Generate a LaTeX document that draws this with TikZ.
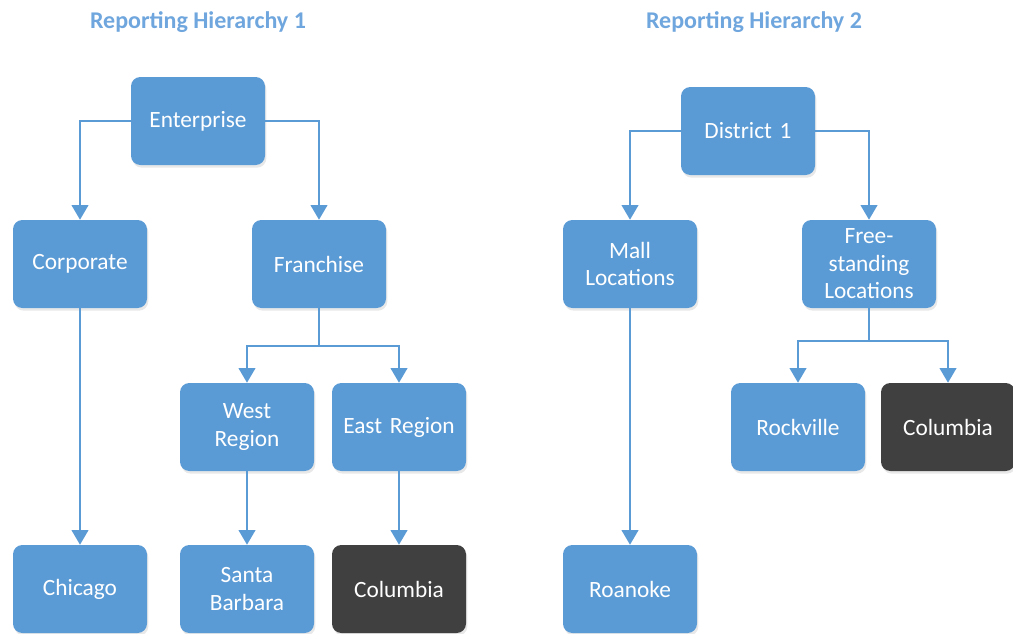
\documentclass[tikz,border=0pt]{standalone}
\usepackage{fontspec}
\setmainfont{Carlito}
\usetikzlibrary{arrows.meta,shadows,positioning}
\definecolor{boxblue}{HTML}{5B9BD5}
\definecolor{boxdark}{HTML}{404040}
\definecolor{titleblue}{HTML}{6FA6DD}
\tikzset{
  box/.style={rectangle, rounded corners=7pt, fill=boxblue, text=white,
    minimum width=100.5pt, minimum height=66pt, text width=92pt, align=center,
    font=\fontsize{17.5}{20.6}\selectfont,
    drop shadow={opacity=0.18, shadow xshift=1pt, shadow yshift=-2pt}},
  darkbox/.style={box, fill=boxdark},
  title/.style={font=\bfseries\fontsize{18}{21}\selectfont, text=titleblue},
  conn/.style={draw=boxblue, line width=1.5pt,
    -{Triangle[width=12.5pt,length=11pt]}},
  joint/.style={draw=boxblue, line width=1.5pt},
}
\begin{document}
\begin{tikzpicture}[x=0.75pt,y=-0.75pt]
\useasboundingbox (0,0) rectangle (1013,633);
\node[title] (t1) at (198,22) {Reporting Hierarchy 1};
\node[title] (t2) at (754,22) {Reporting Hierarchy 2};
% Hierarchy 1
\node[box] (ent) at (198,121) {Enterprise};
\node[box] (corp) at (80,264) {Corporate};
\node[box] (fran) at (319,264) {Franchise};
\node[box] (west) at (247,427) {West\\Region};
\node[box] (east) at (399,427) {East Region};
\node[box] (chi) at (80,589) {Chicago};
\node[box] (sb) at (247,589) {Santa\\Barbara};
\node[darkbox] (col1) at (399,589) {Columbia};
% Hierarchy 2
\node[box] (dist) at (748,131) {District 1};
\node[box] (mall) at (630,264) {Mall\\Locations};
\node[box] (free) at (869,264) {Free-\\standing\\Locations};
\node[box] (rock) at (798,427) {Rockville};
\node[darkbox] (col2) at (948,427) {Columbia};
\node[box] (roa) at (630,589) {Roanoke};
% connectors
\draw[conn] (ent.west) -| (corp.north);
\draw[conn] (ent.east) -| (fran.north);
\coordinate (fj) at (319,346);
\draw[joint] (fran.south) -- (fj);
\draw[conn] (fj) -| (west.north);
\draw[conn] (fj) -| (east.north);
\draw[conn] (corp.south) -- (chi.north);
\draw[conn] (west.south) -- (sb.north);
\draw[conn] (east.south) -- (col1.north);
\draw[conn] (dist.west) -| (mall.north);
\draw[conn] (dist.east) -| (free.north);
\coordinate (fj2) at (869,341);
\draw[joint] (free.south) -- (fj2);
\draw[conn] (fj2) -| (rock.north);
\draw[conn] (fj2) -| (col2.north);
\draw[conn] (mall.south) -- (roa.north);
\end{tikzpicture}
\end{document}
